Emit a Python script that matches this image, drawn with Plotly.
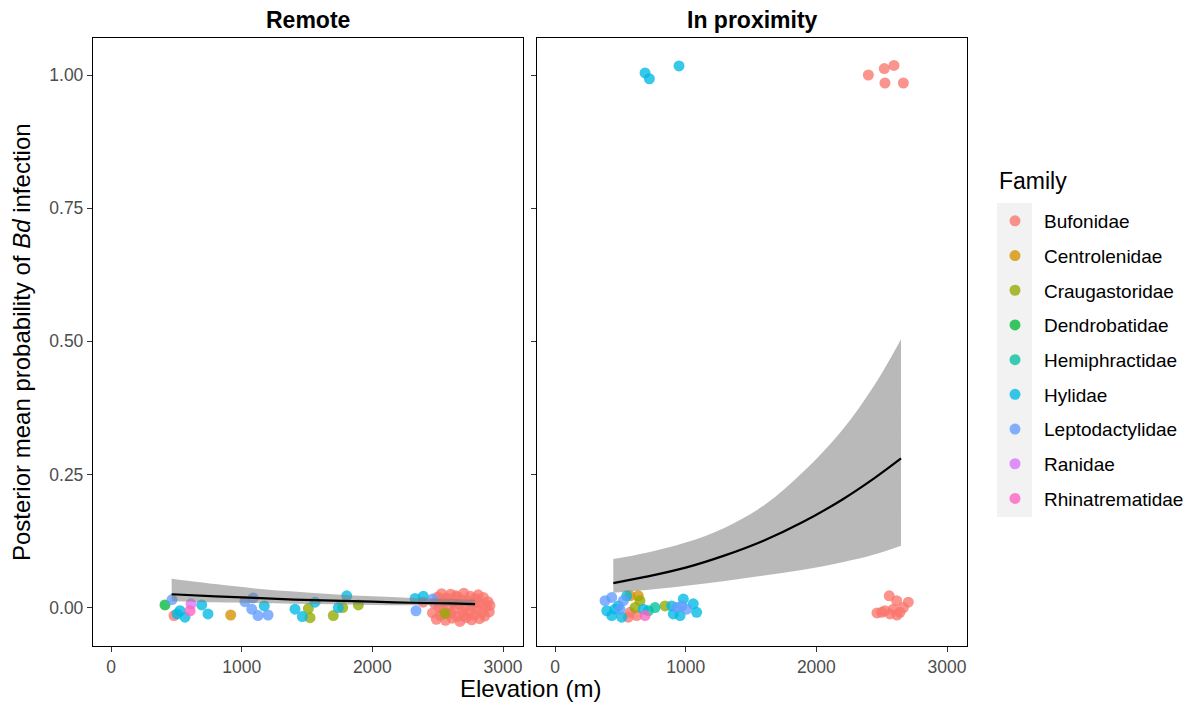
import plotly.graph_objects as go

# ---------------- data ----------------
families = ["Bufonidae", "Centrolenidae", "Craugastoridae", "Dendrobatidae",
            "Hemiphractidae", "Hylidae", "Leptodactylidae", "Ranidae", "Rhinatrematidae"]
family_colors = ["#F8766D", "#D39200", "#93AA00", "#00BA38",
                 "#00C19F", "#00B9E3", "#619CFF", "#DB72FB", "#FF61C3"]
panels = ["Remote", "In proximity"]

# Remote panel: points (family, elevation m, posterior mean probability)
remote_family = (
    ["Dendrobatidae", "Bufonidae", "Leptodactylidae", "Hylidae", "Hylidae", "Ranidae",
     "Rhinatrematidae", "Hylidae", "Hylidae", "Centrolenidae", "Leptodactylidae",
     "Leptodactylidae", "Leptodactylidae", "Hylidae", "Leptodactylidae", "Leptodactylidae",
     "Hylidae", "Hylidae", "Craugastoridae", "Craugastoridae", "Hylidae", "Hylidae",
     "Hylidae", "Craugastoridae", "Hylidae", "Craugastoridae", "Craugastoridae",
     "Hylidae", "Hylidae", "Leptodactylidae", "Leptodactylidae", "Bufonidae"]
    + ["Bufonidae"] * 50 + ["Craugastoridae"]
)
remote_elev = (
    [413, 482, 467, 528, 566, 612, 605, 694, 742, 916, 1025, 1087, 1077, 1173, 1125, 1202,
     1408, 1464, 1510, 1523, 505, 1561, 1804, 1773, 1740, 1701, 1893, 2327, 2390, 2462,
     2334, 2388]
    + [2460, 2475, 2490, 2500, 2510, 2520, 2530, 2540, 2550, 2560, 2570, 2580, 2590, 2600,
       2610, 2620, 2630, 2640, 2650, 2660, 2670, 2680, 2690, 2700, 2710, 2720, 2730, 2740,
       2750, 2760, 2770, 2780, 2790, 2800, 2810, 2820, 2830, 2840, 2850, 2860, 2870, 2885,
       2900, 2895, 2540, 2600, 2650, 2700, 2750, 2800]
    + [2556]
)
remote_prob = (
    [0.005, -0.015, 0.015, -0.006, -0.018, 0.007, -0.006, 0.005, -0.012, -0.014, 0.011,
     0.018, -0.003, 0.003, -0.015, -0.014, -0.003, -0.017, -0.002, -0.019, -0.012, 0.010,
     0.022, 0.000, 0.000, -0.015, 0.005, 0.017, 0.021, 0.016, -0.006, 0.010]
    + [-0.010, 0.008, -0.022, 0.020, 0.002, -0.015, 0.026, -0.005, 0.012, -0.024, 0.018,
       -0.012, 0.004, 0.025, -0.020, 0.010, -0.003, 0.022, -0.017, 0.006, -0.026, 0.015,
       -0.008, 0.027, 0.000, -0.019, 0.013, -0.011, 0.021, -0.023, 0.004, -0.014, 0.017,
       -0.004, 0.024, -0.021, 0.008, -0.009, 0.019, -0.016, 0.002, 0.011, 0.004, -0.008,
       0.016, -0.010, 0.020, -0.015, 0.005, 0.010]
    + [-0.011]
)

# In proximity panel
prox_family = (
    ["Hylidae", "Hylidae", "Hylidae"]
    + ["Bufonidae"] * 5
    + ["Bufonidae"] * 11
    + ["Leptodactylidae", "Leptodactylidae", "Hylidae", "Hylidae", "Hylidae",
       "Leptodactylidae", "Hylidae", "Centrolenidae", "Centrolenidae", "Craugastoridae",
       "Craugastoridae", "Bufonidae", "Bufonidae", "Bufonidae", "Hylidae", "Hylidae",
       "Leptodactylidae", "Rhinatrematidae", "Hylidae", "Hemiphractidae", "Hemiphractidae",
       "Craugastoridae", "Hylidae", "Leptodactylidae", "Leptodactylidae", "Hylidae",
       "Hylidae", "Hylidae", "Hylidae", "Hylidae", "Leptodactylidae"]
)
prox_elev = (
    [689, 722, 949]
    + [2398, 2520, 2594, 2525, 2666]
    + [2558, 2615, 2704, 2525, 2589, 2640, 2666, 2500, 2564, 2464, 2617]
    + [383, 434, 396, 434, 484, 523, 549, 574, 637, 650, 612, 574, 625, 561, 510, 459,
       497, 689, 676, 714, 765, 842, 982, 931, 1008, 1058, 1084, 957, 905, 893, 970]
)
prox_prob = (
    [1.004, 0.993, 1.017]
    + [1.000, 1.012, 1.018, 0.985, 0.985]
    + [0.022, 0.013, 0.010, -0.006, -0.003, -0.009, 0.000, -0.009, -0.012, -0.010, -0.014]
    + [0.013, 0.019, -0.006, -0.015, 0.003, 0.013, 0.022, 0.022, 0.022, 0.013, 0.000,
       -0.009, -0.015, -0.018, -0.018, -0.003, -0.003, -0.015, -0.003, -0.006, 0.000,
       0.003, 0.016, 0.000, -0.003, 0.007, -0.009, -0.015, -0.012, 0.003, 0.003]
)

# Fitted curves with credible band
remote_fit_elev = [464, 800, 1100, 1400, 1700, 2000, 2300, 2600, 2786]
remote_fit = [0.025, 0.021, 0.018, 0.015, 0.013, 0.011, 0.009, 0.0078, 0.0066]
remote_upper = [0.054, 0.044, 0.036, 0.030, 0.025, 0.021, 0.018, 0.016, 0.015]
remote_lower = [0.012, 0.010, 0.0085, 0.0072, 0.006, 0.005, 0.0042, 0.0035, 0.003]

prox_fit_elev = [446, 700, 1000, 1300, 1600, 1900, 2200, 2450, 2648]
prox_fit = [0.046, 0.058, 0.075, 0.098, 0.126, 0.161, 0.203, 0.244, 0.280]
prox_upper = [0.091, 0.103, 0.122, 0.150, 0.192, 0.255, 0.334, 0.420, 0.504]
prox_lower = [0.028, 0.033, 0.041, 0.050, 0.060, 0.071, 0.085, 0.100, 0.116]

x_ticks = [0, 1000, 2000, 3000]
y_ticks = [0.0, 0.25, 0.50, 0.75, 1.00]

# ---------------- figure ----------------
# The page body has an 8px margin, so the figure is placed 8px in from the corner.
OFF = 8
W, H = 1194 - OFF, 704 - OFF
FONT = "Arial, 'Liberation Sans', sans-serif"


def fx(px):
    return (px - OFF) / W


def fy(py):
    return 1 - (py - OFF) / H


fig = go.Figure()

panel_data = [
    (remote_family, remote_elev, remote_prob, "x", "y"),
    (prox_family, prox_elev, prox_prob, "x2", "y2"),
]

for fam, col in zip(families, family_colors):
    shown = False
    for fams, xs, ys, xa, ya in panel_data:
        px = [x for f, x in zip(fams, xs) if f == fam]
        py = [y for f, y in zip(fams, ys) if f == fam]
        if not px:
            continue
        fig.add_trace(go.Scatter(
            x=px, y=py, mode="markers", xaxis=xa, yaxis=ya,
            name=fam, legendgroup=fam, showlegend=not shown,
            marker=dict(color=col, size=11, opacity=0.78, line=dict(width=0)),
            hoverinfo="skip",
        ))
        shown = True

ribbon_fill = "rgba(128,128,128,0.55)"
for xs, fit, lo, up, xa, ya in [
    (remote_fit_elev, remote_fit, remote_lower, remote_upper, "x", "y"),
    (prox_fit_elev, prox_fit, prox_lower, prox_upper, "x2", "y2"),
]:
    fig.add_trace(go.Scatter(x=xs, y=lo, mode="lines", xaxis=xa, yaxis=ya,
                             line=dict(width=0, shape="spline"), showlegend=False,
                             hoverinfo="skip"))
    fig.add_trace(go.Scatter(x=xs, y=up, mode="lines", xaxis=xa, yaxis=ya,
                             line=dict(width=0, shape="spline"), fill="tonexty",
                             fillcolor=ribbon_fill, showlegend=False, hoverinfo="skip"))
    fig.add_trace(go.Scatter(x=xs, y=fit, mode="lines", xaxis=xa, yaxis=ya,
                             line=dict(color="black", width=2.2, shape="spline"),
                             showlegend=False, hoverinfo="skip"))

dom1 = [fx(93), fx(523)]
dom2 = [fx(537), fx(967)]
ydom = [fy(646), fy(38)]
xrange_ = [-138, 3153]
yrange_ = [-0.0722, 1.0695]

axis_common = dict(showline=True, mirror=True, linecolor="black", linewidth=1.3,
                   ticks="outside", ticklen=5, tickwidth=1.1, tickcolor="#333333",
                   showgrid=False, zeroline=False,
                   tickfont=dict(family=FONT, size=17.5, color="#4D4D4D"))

fig.update_layout(
    width=W, height=H,
    margin=dict(l=0, r=0, t=0, b=0),
    paper_bgcolor="white", plot_bgcolor="white",
    font=dict(family=FONT, color="black"),
    xaxis=dict(domain=dom1, range=xrange_, tickvals=x_ticks, anchor="y", **axis_common),
    xaxis2=dict(domain=dom2, range=xrange_, tickvals=x_ticks, anchor="y2", **axis_common),
    yaxis=dict(domain=ydom, range=yrange_, tickvals=y_ticks, tickformat=".2f",
               anchor="x", **axis_common),
    yaxis2=dict(domain=ydom, range=yrange_, tickvals=y_ticks, showticklabels=False,
                anchor="x2", **axis_common),
    legend=dict(x=fx(986), xanchor="left", y=fy(202), yanchor="top",
                bgcolor="rgba(0,0,0,0)", borderwidth=0,
                font=dict(family=FONT, size=19, color="black"),
                tracegroupgap=7, itemsizing="trace", itemwidth=48, itemclick=False),
    showlegend=True,
)

# legend key background
fig.add_shape(type="rect", xref="paper", yref="paper",
              x0=fx(997), x1=fx(1032), y0=fy(517), y1=fy(203),
              fillcolor="#F2F2F2", line=dict(width=0), layer="below")

# legend title
fig.add_annotation(text="Family", xref="paper", yref="paper", x=fx(997), y=fy(181),
                   showarrow=False, xanchor="left", yanchor="middle",
                   font=dict(family=FONT, size=23, color="black"))

# strip titles
for name, dom in zip(panels, [dom1, dom2]):
    fig.add_annotation(text=f"<b>{name}</b>", xref="paper", yref="paper",
                       x=(dom[0] + dom[1]) / 2, y=fy(20), showarrow=False,
                       xanchor="center", yanchor="middle",
                       font=dict(family=FONT, size=23, color="black"))

# axis titles
fig.add_annotation(text="Elevation (m)", xref="paper", yref="paper",
                   x=(dom1[0] + dom2[1]) / 2, y=fy(688), showarrow=False,
                   xanchor="center", yanchor="middle",
                   font=dict(family=FONT, size=24, color="black"))
fig.add_annotation(text="Posterior mean probability of <i>Bd</i> infection",
                   xref="paper", yref="paper", x=fx(22), y=fy(342), textangle=-90,
                   showarrow=False, xanchor="center", yanchor="middle",
                   font=dict(family=FONT, size=24, color="black"))

fig.write_html("out.html")
